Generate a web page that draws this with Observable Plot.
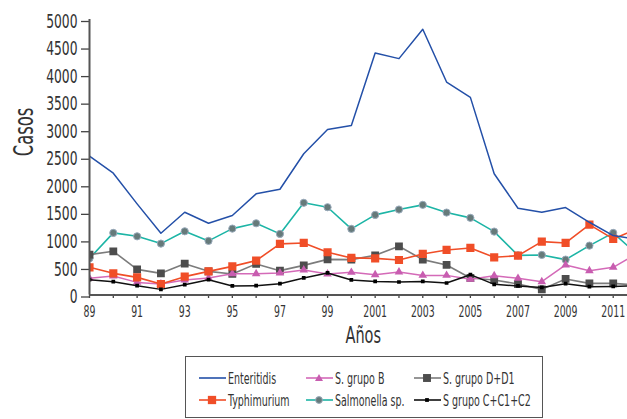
<!DOCTYPE html>
<html>
<head>
<meta charset="utf-8">
<script src="https://cdn.jsdelivr.net/npm/d3@7"></script>
<script src="https://cdn.jsdelivr.net/npm/@observablehq/plot@0.6"></script>
<style>
  html, body { margin: 0; padding: 0; background: #fff; }
  body { width: 627px; height: 419px; position: relative; overflow: hidden;
         font-family: 'DejaVu Sans Condensed', 'DejaVu Sans', sans-serif; }
  #legend { position: absolute; left: 185px; top: 356px; width: 358px; height: 62px;
            border: 1px solid #555; box-sizing: border-box; }
  .item { position: absolute; height: 18px; display: flex; align-items: center;
          font-size: 16.5px; color: #333; white-space: nowrap; }
  .item svg { margin-right: 1px; flex: none; }
  .item span { display: inline-block; transform: scaleX(0.64); transform-origin: left center; }
</style>
</head>
<body>
<div id="chart"></div>
<div id="legend"></div>
<script>
const years = [1989,1990,1991,1992,1993,1994,1995,1996,1997,1998,1999,2000,2001,2002,2003,2004,2005,2006,2007,2008,2009,2010,2011,2012];
const enteritidis = [2520,2211,1654,1120,1502,1302,1442,1836,1920,2563,3005,3078,4392,4290,4823,3865,3587,2200,1574,1502,1587,1320,1078,1010];
const typhimurium = [502,393,320,200,333,429,520,624,927,945,775,673,665,636,745,818,854,684,714,969,945,1278,1018,1200];
const salmonellaSp = [665,1127,1065,933,1156,982,1205,1302,1109,1673,1593,1200,1454,1551,1636,1496,1400,1151,720,727,642,896,1127,740];
const grupoD = [733,793,465,393,569,429,382,564,442,538,647,642,720,884,642,545,309,273,200,102,291,211,211,180];
const grupoB = [302,345,229,200,273,309,387,387,400,455,382,411,369,418,356,356,284,351,302,242,545,442,502,750];
const grupoC = [278,242,169,102,187,278,164,169,205,309,400,273,247,236,247,218,369,193,164,138,205,151,156,170];
const yTicks = [0,500,1000,1500,2000,2500,3000,3500,4000,4500,5000];
const seriesNames = ["Enteritidis","Typhimurium","S. grupo B","Salmonella sp.","S. grupo D+D1","S grupo C+C1+C2"];

const series = [
  {name: seriesNames[0], values: enteritidis, line: "#2450a8", sw: 1.5, symbol: null},
  {name: seriesNames[1], values: typhimurium, line: "#f04e28", sw: 1.6, symbol: "square", fill: "#f04e28", stroke: "none", r: 4.6},
  {name: seriesNames[2], values: grupoB, line: "#d46ab8", sw: 1.5, symbol: "triangle", fill: "#c85db0", stroke: "none", r: 3.2},
  {name: seriesNames[3], values: salmonellaSp, line: "#1db5a6", sw: 1.6, symbol: "circle", fill: "#667a7a", stroke: "#9ab", r: 3.6},
  {name: seriesNames[4], values: grupoD, line: "#7c7c7c", sw: 1.6, symbol: "square", fill: "#4d4d4d", stroke: "none", r: 4.4},
  {name: seriesNames[5], values: grupoC, line: "#111", sw: 1.5, symbol: "square", fill: "#000", stroke: "none", r: 2.1}
];

const rows = s => years.map((y, i) => ({year: y, v: s.values[i]}));
const drawOrder = [3, 4, 2, 1, 5, 0];

const marks = [];
for (const k of drawOrder) {
  const s = series[k];
  const d = rows(s);
  marks.push(Plot.line(d, {x: "year", y: "v", stroke: s.line, strokeWidth: s.sw, clip: true}));
  if (s.symbol) marks.push(Plot.dot(d, {x: "year", y: "v", symbol: s.symbol, r: s.r, fill: s.fill, stroke: s.stroke, strokeWidth: 1, clip: true}));
}

const xFmt = d => ((d - 1989) % 2 !== 0) ? "" : (d < 2000 ? String(d).slice(2) : String(d));

const chart = Plot.plot({
  width: 627,
  height: 356,
  marginLeft: 89,
  marginRight: 0,
  marginTop: 19,
  marginBottom: 61.5,
  style: {fontFamily: "'DejaVu Sans Condensed','DejaVu Sans',sans-serif", background: "#fff", color: "#333"},
  x: {domain: [1989, 2011.6]},
  y: {domain: [0, 5000]},
  marks: [
    Plot.axisY({ticks: yTicks, tickFormat: d => String(d), tickSize: 8, tickPadding: 4, dy: 2, fontSize: 19, label: null, stroke: "#444", strokeWidth: 1.3}),
    Plot.axisX({ticks: years.slice(0, 23), tickSize: 3.5, tickPadding: 7, tickFormat: xFmt, fontSize: 16, label: null, stroke: "#444", strokeWidth: 1.3}),
    ...marks,
    Plot.ruleY([0], {stroke: "#555", strokeWidth: 2}),
    Plot.ruleX([1989], {y1: 0, y2: 5000, stroke: "#555", strokeWidth: 2}),
    Plot.text(["Casos"], {frameAnchor: "left", dx: -65, dy: -1, rotate: -90, fontSize: 26, fill: "#333"}),
    Plot.text(["Años"], {x: 2000.5, y: 0, dy: 41, fontSize: 23, fill: "#333", textAnchor: "middle"})
  ]
});
document.getElementById("chart").appendChild(chart);

// emulate the condensed typeface of the original
chart.querySelectorAll("text").forEach(t => {
  const L = t.getComputedTextLength();
  if (L > 0) {
    const isX = !!t.closest('[aria-label="x-axis tick label"]');
    const isNum = /^\d+$/.test(t.textContent);
    const f = isX ? 0.65 : (isNum ? 0.72 : 0.7);
    t.setAttribute("textLength", (L * f).toFixed(1));
    t.setAttribute("lengthAdjust", "spacingAndGlyphs");
  }
});

// legend
const legend = document.getElementById("legend");
const pos = [
  [0, 12, 12], [1, 12, 34],
  [2, 119, 12], [3, 119, 34],
  [4, 227, 12], [5, 227, 34]
];
const shapeSvg = s => {
  let m = "";
  if (s.symbol === "square") {
    const h = s.r * 0.9;
    m = `<rect x="${14 - h}" y="${9 - h}" width="${2*h}" height="${2*h}" fill="${s.fill}"/>`;
  } else if (s.symbol === "circle") {
    m = `<circle cx="14" cy="9" r="3.4" fill="${s.fill}" stroke="${s.stroke}"/>`;
  } else if (s.symbol === "triangle") {
    m = `<path d="M14,5 L18,12 L10,12 Z" fill="${s.fill}"/>`;
  }
  return `<svg width="29" height="18"><line x1="1" y1="9" x2="28" y2="9" stroke="${s.line}" stroke-width="1.6"/>${m}</svg>`;
};
for (const [k, left, top] of pos) {
  const s = series[k];
  const div = document.createElement("div");
  div.className = "item";
  div.style.left = left + "px";
  div.style.top = top + "px";
  div.innerHTML = shapeSvg(s) + `<span>${s.name}</span>`;
  legend.appendChild(div);
}
</script>
</body>
</html>
